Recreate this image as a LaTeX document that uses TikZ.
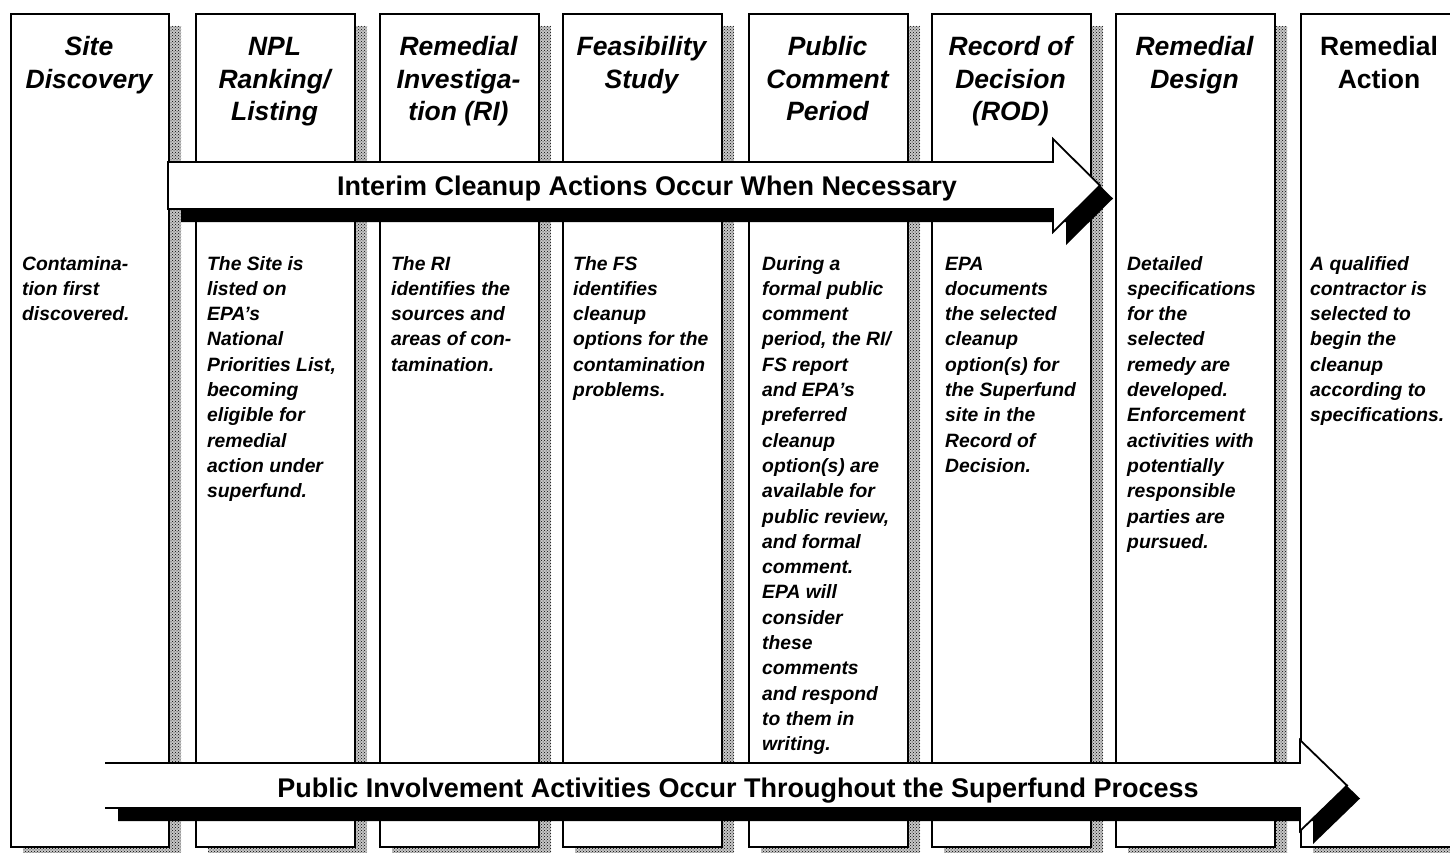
\documentclass[tikz,border=0pt]{standalone}
\usepackage{fontspec}
\setmainfont{Liberation Sans}
\usetikzlibrary{patterns}
\begin{document}
\begin{tikzpicture}[x=1pt,y=-1pt,
  colbox/.style={draw=black, line width=1.8pt, fill=white},
  colshadowbase/.style={fill=black!22},
  colshadow/.style={pattern=crosshatch dots, pattern color=black},
  arrowbody/.style={fill=white, draw=black, line width=1.8pt, line join=miter},
  arrowshadow/.style={fill=black},
  title/.style={font=\fontsize{26.5}{32.5}\selectfont\bfseries\itshape, align=center, anchor=base, inner sep=0pt},
  titleup/.style={font=\fontsize{26.5}{32.5}\selectfont\bfseries, align=center, anchor=base, inner sep=0pt},
  body/.style={font=\fontsize{19.3}{25.3}\selectfont\bfseries\itshape, align=left, anchor=base west, inner sep=0pt},
  banner/.style={font=\fontsize{27}{32}\selectfont\bfseries, anchor=base, inner sep=0pt}]
\useasboundingbox (0,0) rectangle (1450,853);
\clip (0,0) rectangle (1450,853);
% column shadows and boxes
\foreach \L/\W/\n in {10/158/c1,195/159/c2,379/159/c3,562/159/c4,748/159/c5,931/159/c6,1115/159/c7,1300/200/c8}{
  \fill[colshadowbase] (\L+13,26) rectangle ++(\W,833);
  \fill[colshadow] (\L+13,26) rectangle ++(\W,833);
}
\foreach \L/\W/\n in {10/158/c1,195/159/c2,379/159/c3,562/159/c4,748/159/c5,931/159/c6,1115/159/c7,1300/200/c8}{
  \node[colbox, anchor=north west, minimum width=\W pt, minimum height=833pt, inner sep=0pt] (\n) at (\L,13) {};
}
% upper arrow
\fill[arrowshadow] (181,175) -- (1066,175) -- (1066,152) -- (1113,198.5) -- (1066,245) -- (1066,222) -- (181,222) -- cycle;
\draw[arrowbody] (168,162) -- (1053,162) -- (1053,139) -- (1100,185.5) -- (1053,232) -- (1053,209) -- (168,209) -- cycle;
% lower arrow
\fill[arrowshadow] (118,776) -- (1313,776) -- (1313,753) -- (1360,798.5) -- (1313,844) -- (1313,821) -- (118,821) -- cycle;
\fill[white] (105,763) -- (1300,763) -- (1300,740) -- (1347,785.5) -- (1300,831) -- (1300,808) -- (105,808) -- cycle;
\draw[arrowbody, fill=none] (105,763) -- (1300,763) -- (1300,740) -- (1347,785.5) -- (1300,831) -- (1300,808) -- (105,808);
% banners
\node[banner] (up) at (647,196) {Interim Cleanup Actions Occur When Necessary};
\node[banner] (low) at (738,797) {Public Involvement Activities Occur Throughout the Superfund Process};
% titles (anchor base = baseline of the last line)
\node[title] (t1) at (89,88.5) {Site\\Discovery};
\node[title] (t2) at (274.5,121) {NPL\\Ranking/\\Listing};
\node[title] (t3) at (458.5,121) {Remedial\\Investiga-\\tion (RI)};
\node[title] (t4) at (641.5,88.5) {Feasibility\\Study};
\node[title] (t5) at (827.5,121) {Public\\Comment\\Period};
\node[title] (t6) at (1010.5,121) {Record of\\Decision\\(ROD)};
\node[title] (t7) at (1194.5,88.5) {Remedial\\Design};
\node[titleup] (t8) at (1379,88.5) {Remedial\\Action};
% bodies (anchor base = baseline of the last line)
\node[body] (b1) at (22,320.6) {Contamina-\\tion first\\discovered.};
\node[body] (b2) at (207,497.7) {The Site is\\listed on\\EPA's\\National\\Priorities List,\\becoming\\eligible for\\remedial\\action under\\superfund.};
\node[body] (b3) at (391,371.2) {The RI\\identifies the\\sources and\\areas of con-\\tamination.};
\node[body] (b4) at (573,396.5) {The FS\\identifies\\cleanup\\options for the\\contamination\\problems.};
\node[body] (b5) at (762,750.7) {During a\\formal public\\comment\\period, the RI/\\FS report\\and EPA's\\preferred\\cleanup\\option(s) are\\available for\\public review,\\and formal\\comment.\\EPA will\\consider\\these\\comments\\and respond\\to them in\\writing.};
\node[body] (b6) at (945,472.4) {EPA\\documents\\the selected\\cleanup\\option(s) for\\the Superfund\\site in the\\Record of\\Decision.};
\node[body] (b7) at (1127,548.3) {Detailed\\specifications\\for the\\selected\\remedy are\\developed.\\Enforcement\\activities with\\potentially\\responsible\\parties are\\pursued.};
\node[body] (b8) at (1310,421.8) {A qualified\\contractor is\\selected to\\begin the\\cleanup\\according to\\specifications.};
\end{tikzpicture}
\end{document}
